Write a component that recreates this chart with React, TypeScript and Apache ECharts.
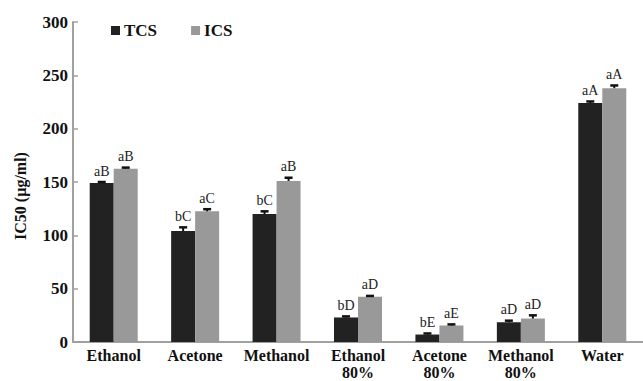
import React, { useEffect, useRef } from "react";
import * as echarts from "echarts";

const categories = ["Ethanol", "Acetone", "Methanol", "Ethanol\n80%", "Acetone\n80%", "Methanol\n80%", "Water"];
const tcsValues = [149, 104, 120, 23, 7, 18.5, 224];
const tcsErrors = [1, 3.5, 2.5, 1, 1, 1.5, 1.5];
const tcsLetters = ["aB", "bC", "bC", "bD", "bE", "aD", "aA"];
const icsValues = [162.5, 122.5, 151, 42.5, 15.5, 22, 238];
const icsErrors = [1, 2, 3, 0.7, 1, 3, 2.5];
const icsLetters = ["aB", "aC", "aB", "aD", "aE", "aD", "aA"];
const yTicks = [0, 50, 100, 150, 200, 250, 300];

const FONT = "Liberation Serif";
const BAR_W = 24;

function errSeries(name: string, values: number[], errors: number[], letters: string[], offset: number) {
  return {
    type: "custom",
    name: name + "-err",
    silent: true,
    z: 10,
    data: values.map((v, i) => [i, v, errors[i]]),
    renderItem: (params: any, api: any) => {
      const i = api.value(0);
      const v = api.value(1);
      const e = api.value(2);
      const bot = api.coord([i, v]);
      const top = api.coord([i, v + e]);
      const x = bot[0] + offset;
      return {
        type: "group",
        children: [
          { type: "line", shape: { x1: x, y1: bot[1], x2: x, y2: top[1] }, style: { stroke: "#111", lineWidth: 2 } },
          { type: "line", shape: { x1: x - 4, y1: top[1], x2: x + 4, y2: top[1] }, style: { stroke: "#111", lineWidth: 2.5 } },
          {
            type: "text",
            style: {
              x: x,
              y: top[1] - 4,
              text: letters[params.dataIndex],
              align: "center",
              verticalAlign: "bottom",
              fontFamily: FONT,
              fontSize: 14,
              fill: "#222",
            },
          },
        ],
      };
    },
  };
}

export default function App() {
  const ref = useRef<HTMLDivElement>(null);
  useEffect(() => {
    const chart = echarts.init(ref.current!, null, { renderer: "svg" });
    chart.setOption({
      animation: false,
      backgroundColor: "#fff",
      textStyle: { fontFamily: FONT },
      grid: { left: 73, right: 0, top: 22, bottom: 35 },
      legend: {
        left: 106,
        top: 17,
        itemWidth: 9,
        itemHeight: 9,
        itemGap: 34,
        icon: "rect",
        data: ["TCS", "ICS"],
        textStyle: { fontFamily: FONT, fontWeight: "bold", fontSize: 17, color: "#111", padding: [0, 0, 0, -1] },
      },
      xAxis: {
        type: "category",
        data: categories,
        axisLine: { lineStyle: { color: "#a0a0a0", width: 2 } },
        axisTick: { inside: true, length: 4, lineStyle: { color: "#a0a0a0", width: 1.5 } },
        axisLabel: {
          fontFamily: FONT,
          fontWeight: "bold",
          fontSize: 16,
          color: "#111",
          margin: 5,
          lineHeight: 17,
          interval: 0,
        },
      },
      yAxis: {
        type: "value",
        min: 0,
        max: 300,
        interval: 50,
        axisLine: { show: true, lineStyle: { color: "#a0a0a0", width: 2 } },
        axisTick: { show: true, inside: true, length: 5, lineStyle: { color: "#a0a0a0", width: 1.5 } },
        splitLine: { show: false },
        axisLabel: {
          fontFamily: FONT,
          fontWeight: "bold",
          fontSize: 17,
          color: "#111",
          margin: 5,
          formatter: (v: number) => (yTicks.includes(v) ? String(v) : ""),
        },
      },
      graphic: [
        {
          type: "text",
          x: 20,
          y: 196,
          rotation: Math.PI / 2,
          style: {
            text: "IC50 (µg/ml)",
            fontFamily: FONT,
            fontWeight: "bold",
            fontSize: 16,
            fill: "#111",
            align: "center",
            verticalAlign: "middle",
          },
        },
      ],
      series: [
        {
          type: "bar",
          name: "TCS",
          data: tcsValues,
          barWidth: BAR_W,
          barGap: "0%",
          itemStyle: { color: "#222222" },
        },
        {
          type: "bar",
          name: "ICS",
          data: icsValues,
          barWidth: BAR_W,
          barGap: "0%",
          itemStyle: { color: "#999999" },
        },
        errSeries("TCS", tcsValues, tcsErrors, tcsLetters, -BAR_W / 2),
        errSeries("ICS", icsValues, icsErrors, icsLetters, BAR_W / 2),
      ],
    });
    return () => chart.dispose();
  }, []);
  return <div ref={ref} style={{ position: "fixed", left: 0, top: 0, width: 643, height: 381 }} />;
}
